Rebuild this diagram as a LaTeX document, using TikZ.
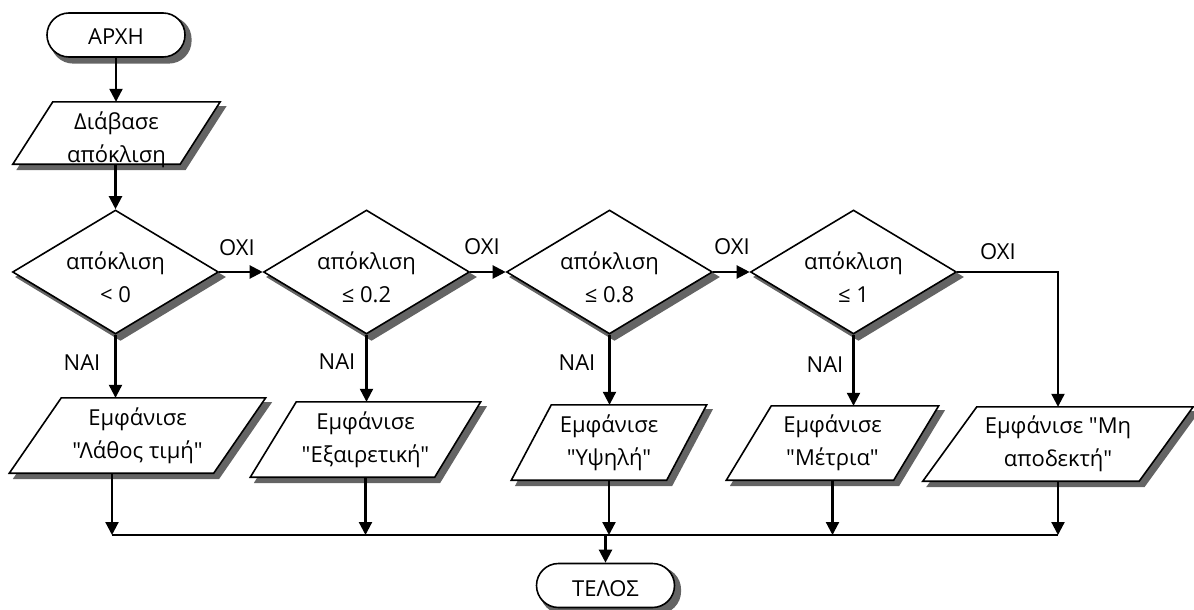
\documentclass[tikz,border=0pt]{standalone}
\usepackage{fontspec}
\setmainfont{Open Sans}[Ligatures=TeXOff]
\usetikzlibrary{arrows.meta,shapes.geometric,calc}
\definecolor{shgray}{RGB}{100,100,100}
\pgfdeclarelayer{shadowlayer}
\pgfsetlayers{shadowlayer,main}

\tikzset{
  term/.style={draw,line width=1.6pt,fill=white,rounded corners=22pt,
    minimum width=138pt,minimum height=44pt,inner sep=0pt},
  decision/.style={diamond,draw,line width=1.6pt,fill=white,
    minimum width=206pt,minimum height=124pt,inner sep=0pt},
  iobox/.style={draw,line width=1.6pt,fill=white,line join=miter},
  shadowfill/.style={fill=shgray,draw=shgray,line width=1.6pt},
  txt/.style={font=\fontsize{22}{33}\selectfont,align=center,inner sep=0pt},
  lbl/.style={font=\fontsize{22}{24}\selectfont,inner sep=0pt},
  flow/.style={line width=2.2pt,-{Triangle[width=13pt,length=13pt]}},
  bus/.style={line width=1.4pt}
}

% parallelogram: name, centre, side width, height, slant, text shift, text
\newcommand\ioshape[7]{%
  \path (#2) node[minimum width=#3,minimum height=#4,inner sep=0pt] (#1) {};
  \fill[shadowfill] ($(#1.south west)+(-#5/2+5,5)$) -- ($(#1.south east)+(-#5/2+5,5)$)
     -- ($(#1.north east)+(#5/2+5,5)$) -- ($(#1.north west)+(#5/2+5,5)$) -- cycle;
  \draw[iobox] ($(#1.south west)+(-#5/2,0)$) -- ($(#1.south east)+(-#5/2,0)$)
     -- ($(#1.north east)+(#5/2,0)$) -- ($(#1.north west)+(#5/2,0)$) -- cycle;
  \node[txt] at ($(#1.center)+(0,#6)$) {#7};
}
% shadow behind a diamond node
\newcommand\diashadow[1]{%
  \begin{pgfonlayer}{shadowlayer}
    \fill[shadowfill] ([shift={(5,5)}]#1.north) -- ([shift={(5,5)}]#1.east)
      -- ([shift={(5,5)}]#1.south) -- ([shift={(5,5)}]#1.west) -- cycle;
  \end{pgfonlayer}}
% shadow behind a terminal node
\newcommand\termshadow[1]{%
  \begin{pgfonlayer}{shadowlayer}
    \fill[shadowfill,rounded corners=22pt] ([shift={(5,5)}]#1.south west)
      rectangle ([shift={(5,5)}]#1.north east);
  \end{pgfonlayer}}

\begin{document}
\begin{tikzpicture}[x=1pt,y=-1pt]
\useasboundingbox (0,0) rectangle (1194,610);

% start
\node[term] (start) at (116,35) {};
\termshadow{start}
\node[txt] at (116,37) {ΑΡΧΗ};

% input
\ioshape{in1}{116.5,133}{167pt}{62pt}{40}{7}{Διάβασε\\απόκλιση}

% decisions
\node[decision] (d1) at (115.5,272) {};
\node[txt] at (115.5,277) {απόκλιση\\< 0};
\node[decision] (d2) at (366.5,272) {};
\node[txt] at (366.5,277) {απόκλιση\\≤ 0.2};
\node[decision] (d3) at (609.5,272) {};
\node[txt] at (609.5,277) {απόκλιση\\≤ 0.8};
\node[decision] (d4) at (853.5,272) {};
\node[txt] at (853.5,277) {απόκλιση\\≤ 1};
\diashadow{d1}\diashadow{d2}\diashadow{d3}\diashadow{d4}

% outputs
\ioshape{p1}{137.5,435.5}{204pt}{75pt}{52}{0}{Εμφάνισε\\"Λάθος τιμή"}
\ioshape{p2}{365.5,439.5}{184pt}{75pt}{46}{0}{Εμφάνισε\\"Εξαιρετική"}
\ioshape{p3}{609,442.5}{155pt}{75pt}{40}{0}{Εμφάνισε\\"Υψηλή"}
\ioshape{p4}{832.5,443}{167pt}{74pt}{45}{0}{Εμφάνισε\\"Μέτρια"}
\ioshape{p5}{1058,444}{216pt}{74pt}{54}{0}{Εμφάνισε "Μη\\αποδεκτή"}

% end
\node[term] (end) at (605.5,585.5) {};
\termshadow{end}
\node[txt] at (605.5,589) {ΤΕΛΟΣ};

% branch labels
\node[lbl] (no1) at (237,248) {ΟΧΙ};
\node[lbl] (no2) at (482,247) {ΟΧΙ};
\node[lbl] (no3) at (732,247) {ΟΧΙ};
\node[lbl] (no4) at (998,252) {ΟΧΙ};
\node[lbl] (yes1) at (82,363) {ΝΑΙ};
\node[lbl] (yes2) at (337,362) {ΝΑΙ};
\node[lbl] (yes3) at (577,363) {ΝΑΙ};
\node[lbl] (yes4) at (825,365) {ΝΑΙ};

% collecting line
\coordinate (busL) at (112,535);
\coordinate (busR) at (1058,535);
\draw[bus] (busL) -- (busR);

% connectors
\draw[flow] (start.south) -- (in1.north -| start.south);
\draw[flow] (in1.south -| d1.north) -- (d1.north);
\draw[flow] (d1.east) -- (d2.west);
\draw[flow] (d2.east) -- (d3.west);
\draw[flow] (d3.east) -- (d4.west);
\draw[flow] (d4.east) -| (p5.north);
\draw[flow] (d1.south) -- (d1.south |- p1.north);
\draw[flow] (d2.south) -- (d2.south |- p2.north);
\draw[flow] (d3.south) -- (d3.south |- p3.north);
\draw[flow] (d4.south) -- (d4.south |- p4.north);
\draw[flow] (busL |- p1.south) -- (busL);
\draw[flow] (p2.south) -- (p2.south |- busL);
\draw[flow] (p3.south) -- (p3.south |- busL);
\draw[flow] (p4.south) -- (p4.south |- busL);
\draw[flow] (p5.south) -- (busR);
\draw[flow] (end.north |- busL) -- (end.north);
\end{tikzpicture}
\end{document}
